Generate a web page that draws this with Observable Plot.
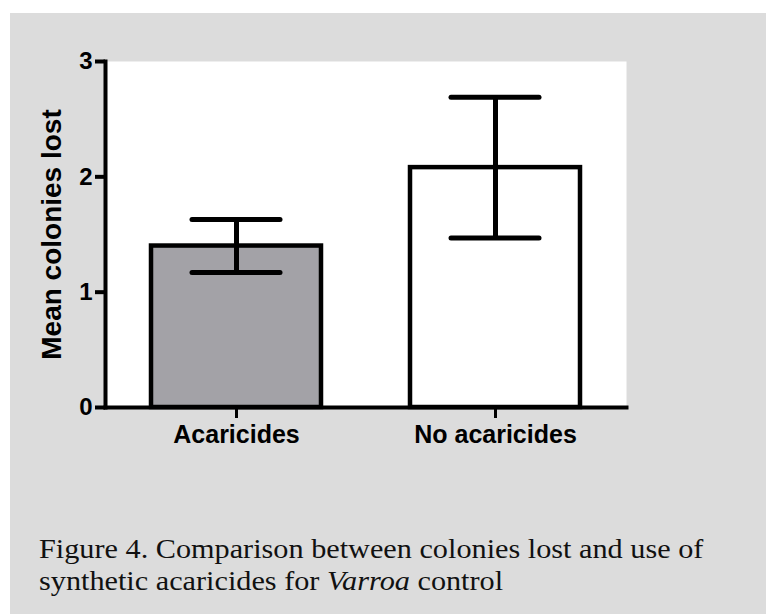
<!DOCTYPE html>
<html>
<head>
<meta charset="utf-8">
<script src="https://cdn.jsdelivr.net/npm/d3@7"></script>
<script src="https://cdn.jsdelivr.net/npm/@observablehq/plot@0.6"></script>
<style>
  html, body { margin: 0; padding: 0; background: #ffffff; overflow: hidden; width: 766px; height: 614px; }
  #panel { position: absolute; left: 10px; top: 13px; width: 756px; height: 601px; background: #dcdcdc; }
  #chart { position: absolute; left: 0; top: 0; }
  #caption { position: absolute; left: 29px; top: 520px; font-family: "Liberation Serif", "Times New Roman", serif; font-size: 27px; line-height: 32px; color: #111; white-space: nowrap; transform: scaleX(1.12); transform-origin: 0 0; }
</style>
</head>
<body>
<div id="panel">
  <div id="chart"></div>
  <div id="caption">Figure 4. Comparison between colonies lost and use of<br>synthetic acaricides for <i>Varroa</i> control</div>
</div>
<script>
const categories = ["Acaricides", "No acaricides"];
const means = [1.40, 2.08];
const lower = [1.17, 1.47];
const upper = [1.63, 2.69];
const yTicks = [0, 1, 2, 3];
const yLabel = "Mean colonies lost";

const data = categories.map((c, i) => ({cat: c, mean: means[i], lo: lower[i], hi: upper[i]}));

const chart = Plot.plot({
  width: 640,
  height: 470,
  marginLeft: 95,
  marginRight: 24,
  marginTop: 48,
  marginBottom: 76,
  style: {background: "transparent", fontFamily: "'Liberation Sans', Arial, sans-serif", color: "#000"},
  x: {type: "band", domain: categories, paddingInner: 0.345, paddingOuter: 0.175, axis: null},
  y: {domain: [0, 3], axis: null},
  color: {domain: categories, range: ["#a3a2a7", "#ffffff"]},
  marks: [
    Plot.frame({fill: "white", stroke: null}),
    Plot.barY(data, {x: "cat", y: "mean", fill: "cat", stroke: "black", strokeWidth: 4.5}),
    Plot.ruleX(data, {x: "cat", y1: "lo", y2: "hi", stroke: "black", strokeWidth: 5}),
    Plot.tickY(data, {x: "cat", y: "lo", inset: 41, stroke: "black", strokeWidth: 5, strokeLinecap: "round"}),
    Plot.tickY(data, {x: "cat", y: "hi", inset: 41, stroke: "black", strokeWidth: 5, strokeLinecap: "round"}),
    Plot.axisY({ticks: yTicks, tickFormat: "d", tickSize: 10, tickPadding: 3, fontSize: 24, fontWeight: "bold", strokeWidth: 4, label: null}),
    Plot.axisX({tickSize: 11, tickPadding: 7, fontSize: 25, fontWeight: "bold", strokeWidth: 3, label: null}),
    Plot.frame({anchor: "left", stroke: "black", strokeWidth: 4, strokeLinecap: "square"}),
    Plot.frame({anchor: "bottom", stroke: "black", strokeWidth: 4, strokeLinecap: "square"}),
    Plot.text([yLabel], {frameAnchor: "left", textAnchor: "middle", lineAnchor: "middle", rotate: -90, dx: -53, fontSize: 28, fontWeight: "bold"})
  ]
});
document.getElementById("chart").appendChild(chart);
</script>
</body>
</html>
